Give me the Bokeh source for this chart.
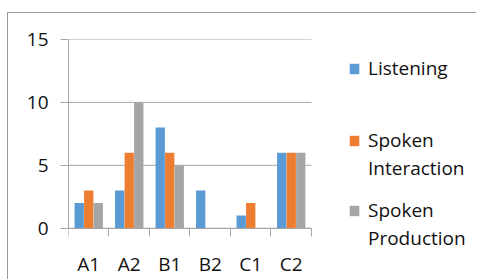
import numpy as np
from bokeh.plotting import figure
from bokeh.models import Range1d, FixedTicker, Legend, LegendItem
from bokeh.embed import file_html
from bokeh.resources import INLINE

categories = ["A1", "A2", "B1", "B2", "C1", "C2"]
listening = [2, 3, 8, 3, 1, 6]
interaction = [3, 6, 6, 0, 2, 6]
production = [2, 10, 5, 0, 0, 6]
series_labels = [["Listening"], ["Spoken", "Interaction"], ["Spoken", "Production"]]
y_ticks = [0, 5, 10, 15]

colors = ["#5B9BD5", "#ED7D31", "#A5A5A5"]
grid_color = "#a6a6a6"
font = "Open Sans"
text_color = "#111111"

n = len(categories)
centers = np.arange(n) + 0.5

p = figure(width=469, height=267, output_backend="svg", toolbar_location=None,
           x_range=Range1d(0, 10.1), y_range=Range1d(-4.157, 15),
           min_border_left=60, min_border_right=0, min_border_top=26, min_border_bottom=0)
p.styles = {"margin-left": "7px", "margin-top": "12px",
            "border-top": "1px solid #9a9a9a", "border-left": "1px solid #9a9a9a"}
p.outline_line_color = None
p.background_fill_color = "white"

# horizontal gridlines only across the category area
p.segment(x0=0, x1=n, y0=y_ticks, y1=y_ticks, line_color=grid_color, line_width=1)

bw = 0.23
offsets = [-0.235, 0.0, 0.235]
renderers = []
for vals, off, col in zip([listening, interaction, production], offsets, colors):
    r = p.vbar(x=centers + off, top=vals, width=bw, bottom=0, fill_color=col, line_color=None)
    renderers.append(r)

# invisible renderer used for the continuation lines of two-line legend labels
blank = p.vbar(x=[], top=[], width=bw, fill_alpha=0, line_alpha=0)

# y axis
p.yaxis.ticker = FixedTicker(ticks=y_ticks)
p.yaxis.bounds = (0, 15)
p.yaxis.axis_line_color = grid_color
p.yaxis.major_tick_line_color = grid_color
p.yaxis.major_tick_out = 8
p.yaxis.major_tick_in = 0
p.yaxis.minor_tick_line_color = None
p.yaxis.major_label_text_font = font
p.yaxis.major_label_text_font_size = "19px"
p.yaxis.major_label_text_color = text_color
p.yaxis.major_label_standoff = 12

# x axis at y=0: labels at centers, ticks at category boundaries
p.xaxis.fixed_location = 0
p.xaxis.bounds = (0, n)
p.xaxis.ticker = FixedTicker(ticks=list(centers), minor_ticks=list(range(n + 1)))
p.xaxis.major_label_overrides = {float(c): cat for c, cat in zip(centers, categories)}
p.xaxis.axis_line_color = grid_color
p.xaxis.major_tick_line_color = None
p.xaxis.major_tick_out = 0
p.xaxis.major_tick_in = 0
p.xaxis.minor_tick_line_color = grid_color
p.xaxis.minor_tick_out = 8
p.xaxis.minor_tick_in = 0
p.xaxis.major_label_text_font = font
p.xaxis.major_label_text_font_size = "19px"
p.xaxis.major_label_text_color = text_color
p.xaxis.major_label_standoff = 15

p.xgrid.grid_line_color = None
p.ygrid.grid_line_color = None

# one legend block per series (positions in screen pixels from frame bottom-left)
legend_locs = [(280, 199), (280, 98), (280, 28)]
legend_heights = [26, 28, 28]
for lines, r, loc, lh in zip(series_labels, renderers, legend_locs, legend_heights):
    items = [LegendItem(label=lines[0], renderers=[r])]
    for extra in lines[1:]:
        items.append(LegendItem(label=extra, renderers=[blank]))
    lg = Legend(items=items, location=loc, label_height=lh, glyph_height=13, glyph_width=12,
                spacing=0, padding=0, margin=0, border_line_color=None, background_fill_alpha=0,
                label_text_font=font, label_text_font_size="19px",
                label_standoff=8, label_text_color=text_color)
    p.add_layout(lg)

open("out.html", "w").write(file_html(p, INLINE))
